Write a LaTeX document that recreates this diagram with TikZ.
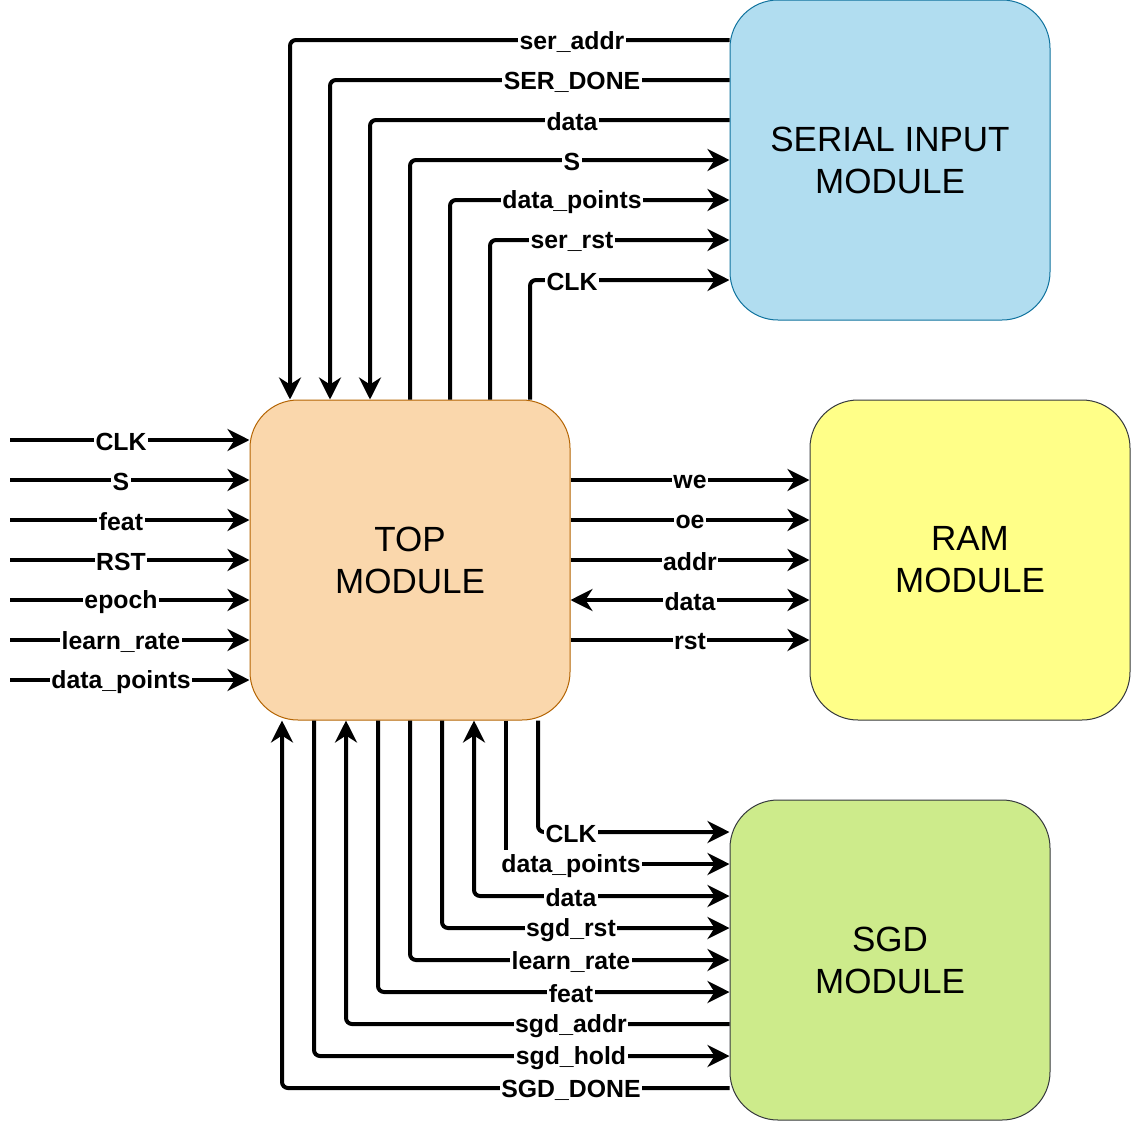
\documentclass[tikz,border=0pt]{standalone}
\usepackage{fontspec}
\setmainfont{Liberation Sans}
\usepackage{tikz}
\usetikzlibrary{arrows.meta, positioning}
\usepackage{xcolor}

\definecolor{topfill}{HTML}{FAD7AC}
\definecolor{topline}{HTML}{B46504}
\definecolor{serfill}{HTML}{B1DDF0}
\definecolor{serline}{HTML}{10739E}
\definecolor{ramfill}{HTML}{FFFF88}
\definecolor{sgdfill}{HTML}{CDEB8B}
\definecolor{darkline}{HTML}{36393D}

\begin{document}
\begin{tikzpicture}[x=0.5pt, y=-0.5pt,
    module/.style={draw, line width=0.5pt, rounded corners=24pt, minimum width=160pt, minimum height=160pt, align=center, font=\fontsize{17.5}{21}\selectfont},
    wire/.style={line width=2pt, rounded corners=3pt},
    lbl/.style={fill=white, inner sep=0.8pt, yshift=-1pt, font=\bfseries\fontsize{12.4}{14}\selectfont},
    >={Stealth[length=11pt, width=11pt, inset=3.5pt]}]
    \useasboundingbox (0,0) rectangle (1132,1121);

    % Draw the modules
    \node[module, fill=topfill, draw=topline] (top) at (410,560) {TOP\\MODULE};
    \node[module, fill=serfill, draw=serline] (serial) at (890,160) {SERIAL INPUT\\MODULE};
    \node[module, fill=ramfill, draw=darkline] (ram) at (970,560) {RAM\\MODULE};
    \node[module, fill=sgdfill, draw=darkline] (sgd) at (890,960) {SGD\\MODULE};

    % Top module <-> serial input module
    \foreach \x/\y/\txt/\dir [count=\i] in {290/40/ser\_addr/<-, 330/80/SER\_DONE/<-, 370/120/data/<-, 410/160/S/->, 450/200/data\_points/->, 490/240/ser\_rst/->, 530/280/CLK/->} {
        \draw[wire,\dir] (top.north -| \x,0) |- (serial.west |- 0,\y);
        \node[lbl] (ser\i) at (572,\y) {\txt};
    }

    % Inputs of the top module
    \foreach \y/\txt [count=\i] in {440/CLK, 480/S, 520/feat, 560/RST, 600/epoch, 640/learn\_rate, 680/data\_points} {
        \coordinate (in\i) at (10,\y);
        \draw[wire,->] (in\i) -- (top.west |- in\i);
        \node[lbl] (inl\i) at (121,\y) {\txt};
    }

    % Top module <-> RAM module
    \foreach \y/\txt/\dir [count=\i] in {480/we/->, 520/oe/->, 560/addr/->, 600/data/<->, 640/rst/->} {
        \draw[wire,\dir] (top.east |- 0,\y) -- (ram.west |- 0,\y);
        \node[lbl] (ram\i) at (690,\y) {\txt};
    }

    % Top module <-> SGD module
    \foreach \x/\y/\txt/\dir [count=\i] in {538/832/CLK/->, 474/896/data/<->, 442/928/sgd\_rst/->, 410/960/learn\_rate/->, 378/992/feat/->, 346/1024/sgd\_addr/<-, 314/1056/sgd\_hold/->, 282/1088/SGD\_DONE/<-} {
        \draw[wire,\dir] (top.south -| \x,0) |- (sgd.west |- 0,\y);
        \node[lbl] (sgd\i) at (571,\y) {\txt};
    }
    % data_points line is left open
    \coordinate (dpend) at (506,850);
    \coordinate (dpstart) at (505,864);
    \draw[wire] (top.south -| dpend) -- (dpend);
    \draw[wire,->] (dpstart) -- (sgd.west |- dpstart);
    \node[lbl] (sgddp) at (571,864) {data\_points};
\end{tikzpicture}
\end{document}
